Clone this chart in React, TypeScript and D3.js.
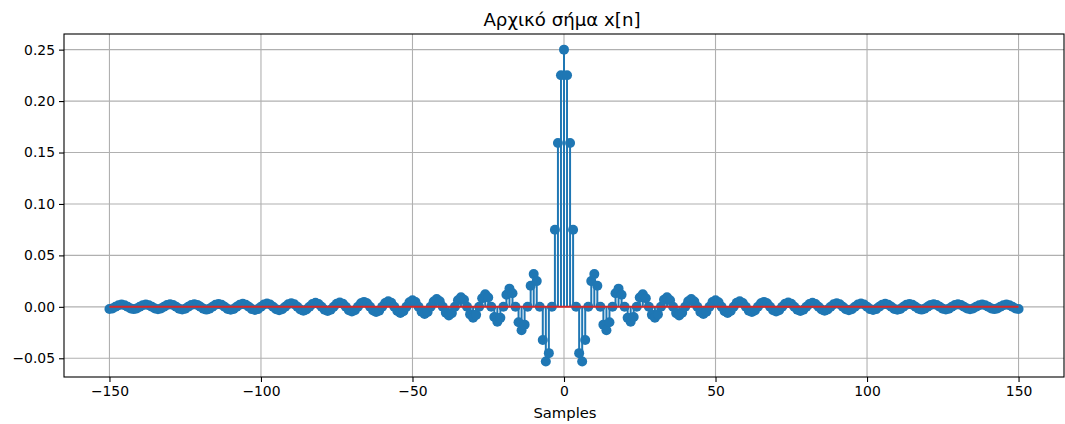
import React, { useEffect, useRef } from "react";
import * as d3 from "d3";

// samples n = -150 .. 150
const samples: number[] = d3.range(-150, 151);

// x[n], n = -150 .. 150
const values: number[] = [
  -0.0021, -0.0015, 0, 0.0015, 0.0022, 0.0016, 0, -0.0016,
  -0.0022, -0.0016, 0, 0.0016, 0.0023, 0.0016, 0, -0.0017,
  -0.0024, -0.0017, 0, 0.0017, 0.0024, 0.0017, 0, -0.0018,
  -0.0025, -0.0018, 0, 0.0018, 0.0026, 0.0019, 0, -0.0019,
  -0.0027, -0.0019, 0, 0.0020, 0.0028, 0.0020, 0, -0.0020,
  -0.0029, -0.0021, 0, 0.0021, 0.0030, 0.0021, 0, -0.0022,
  -0.0031, -0.0022, 0, 0.0023, 0.0032, 0.0023, 0, -0.0024,
  -0.0034, -0.0024, 0, 0.0025, 0.0035, 0.0025, 0, -0.0026,
  -0.0037, -0.0026, 0, 0.0027, 0.0039, 0.0028, 0, -0.0028,
  -0.0041, -0.0029, 0, 0.0030, 0.0043, 0.0031, 0, -0.0032,
  -0.0045, -0.0033, 0, 0.0034, 0.0048, 0.0035, 0, -0.0036,
  -0.0051, -0.0037, 0, 0.0038, 0.0055, 0.0039, 0, -0.0041,
  -0.0059, -0.0042, 0, 0.0044, 0.0064, 0.0046, 0, -0.0048,
  -0.0069, -0.0050, 0, 0.0052, 0.0076, 0.0055, 0, -0.0058,
  -0.0084, -0.0061, 0, 0.0064, 0.0094, 0.0068, 0, -0.0073,
  -0.0106, -0.0078, 0, 0.0083, 0.0122, 0.0090, 0, -0.0098,
  -0.0145, -0.0107, 0, 0.0118, 0.0177, 0.0132, 0, -0.0150,
  -0.0227, -0.0173, 0, 0.0205, 0.0318, 0.0250, 0, -0.0322,
  -0.0531, -0.0450, 0, 0.0750, 0.1592, 0.2251,
  0.25,
  0.2251, 0.1592, 0.0750, 0, -0.0450, -0.0531,
  -0.0322, 0, 0.0250, 0.0318, 0.0205, 0, -0.0173, -0.0227,
  -0.0150, 0, 0.0132, 0.0177, 0.0118, 0, -0.0107, -0.0145,
  -0.0098, 0, 0.0090, 0.0122, 0.0083, 0, -0.0078, -0.0106,
  -0.0073, 0, 0.0068, 0.0094, 0.0064, 0, -0.0061, -0.0084,
  -0.0058, 0, 0.0055, 0.0076, 0.0052, 0, -0.0050, -0.0069,
  -0.0048, 0, 0.0046, 0.0064, 0.0044, 0, -0.0042, -0.0059,
  -0.0041, 0, 0.0039, 0.0055, 0.0038, 0, -0.0037, -0.0051,
  -0.0036, 0, 0.0035, 0.0048, 0.0034, 0, -0.0033, -0.0045,
  -0.0032, 0, 0.0031, 0.0043, 0.0030, 0, -0.0029, -0.0041,
  -0.0028, 0, 0.0028, 0.0039, 0.0027, 0, -0.0026, -0.0037,
  -0.0026, 0, 0.0025, 0.0035, 0.0025, 0, -0.0024, -0.0034,
  -0.0024, 0, 0.0023, 0.0032, 0.0023, 0, -0.0022, -0.0031,
  -0.0022, 0, 0.0021, 0.0030, 0.0021, 0, -0.0021, -0.0029,
  -0.0020, 0, 0.0020, 0.0028, 0.0020, 0, -0.0019, -0.0027,
  -0.0019, 0, 0.0019, 0.0026, 0.0018, 0, -0.0018, -0.0025,
  -0.0018, 0, 0.0017, 0.0024, 0.0017, 0, -0.0017, -0.0024,
  -0.0017, 0, 0.0016, 0.0023, 0.0016, 0, -0.0016, -0.0022,
  -0.0016, 0, 0.0016, 0.0022, 0.0015, 0, -0.0015, -0.0021,
];

const xTicks: number[] = [-150, -100, -50, 0, 50, 100, 150];
const yTicks: number[] = [-0.05, 0, 0.05, 0.1, 0.15, 0.2, 0.25];

const title = "Αρχικό σήμα x[n]";
const xLabel = "Samples";

export default function App() {
  const ref = useRef<SVGSVGElement>(null);

  useEffect(() => {
    const width = 1065;
    const height = 424;
    const margin = { top: 34, left: 64, bottom: 47, right: 1 };
    const iwidth = width - margin.left - margin.right;
    const iheight = height - margin.top - margin.bottom;
    const font = "DejaVu Sans, sans-serif";

    const svg = d3.select(ref.current);
    svg.selectAll("*").remove();

    const g = svg
      .append("g")
      .attr("transform", `translate(${margin.left},${margin.top})`);

    const x = d3.scaleLinear().domain([-165, 165]).range([0, iwidth]);
    const y = d3.scaleLinear().domain([-0.0682, 0.2652]).range([iheight, 0]);

    // grid
    g.append("g")
      .selectAll("line")
      .data(xTicks)
      .enter()
      .append("line")
      .attr("x1", (d) => x(d))
      .attr("x2", (d) => x(d))
      .attr("y1", 0)
      .attr("y2", iheight)
      .attr("stroke", "#b0b0b0")
      .attr("stroke-width", 1.1);
    g.append("g")
      .selectAll("line")
      .data(yTicks)
      .enter()
      .append("line")
      .attr("x1", 0)
      .attr("x2", iwidth)
      .attr("y1", (d) => y(d))
      .attr("y2", (d) => y(d))
      .attr("stroke", "#b0b0b0")
      .attr("stroke-width", 1.1);

    const data = samples.map((n, i) => ({ n, v: values[i] }));

    // stems
    g.append("g")
      .selectAll("line")
      .data(data)
      .enter()
      .append("line")
      .attr("x1", (d) => x(d.n))
      .attr("x2", (d) => x(d.n))
      .attr("y1", y(0))
      .attr("y2", (d) => y(d.v))
      .attr("stroke", "#1f77b4")
      .attr("stroke-width", 2);

    // markers
    g.append("g")
      .selectAll("circle")
      .data(data)
      .enter()
      .append("circle")
      .attr("cx", (d) => x(d.n))
      .attr("cy", (d) => y(d.v))
      .attr("r", 5)
      .attr("fill", "#1f77b4");

    // baseline
    g.append("line")
      .attr("x1", x(-150))
      .attr("x2", x(150))
      .attr("y1", y(0))
      .attr("y2", y(0))
      .attr("stroke", "#d62728")
      .attr("stroke-width", 2);

    // x axis
    const xAxis = g
      .append("g")
      .attr("transform", `translate(0, ${iheight})`)
      .call(
        d3
          .axisBottom(x)
          .tickValues(xTicks)
          .tickSize(5)
          .tickPadding(4)
          .tickFormat((d) => d3.format("d")(d as number).replace("-", "\u2212"))
      );

    // y axis
    const yAxis = g.append("g").call(
      d3
        .axisLeft(y)
        .tickValues(yTicks)
        .tickSize(5)
        .tickPadding(4)
        .tickFormat((d) => d3.format(".2f")(d as number).replace("-", "\u2212"))
    );

    [xAxis, yAxis].forEach((ax) => {
      ax.select(".domain").remove();
      ax.selectAll(".tick line").attr("stroke", "#000").attr("stroke-width", 1.1);
      ax.selectAll(".tick text")
        .attr("fill", "#000")
        .style("font-family", font)
        .style("font-size", "13.9px");
    });

    // frame
    g.append("rect")
      .attr("x", 0)
      .attr("y", 0)
      .attr("width", iwidth)
      .attr("height", iheight)
      .attr("fill", "none")
      .attr("stroke", "#000")
      .attr("stroke-width", 1.1);

    svg
      .append("text")
      .attr("x", 562)
      .attr("y", 26)
      .attr("text-anchor", "middle")
      .style("font-family", font)
      .style("font-size", "18.2px")
      .text(title);

    svg
      .append("text")
      .attr("x", 565)
      .attr("y", 418)
      .attr("text-anchor", "middle")
      .style("font-family", font)
      .style("font-size", "14.8px")
      .text(xLabel);
  }, []);

  return (
    <svg
      ref={ref}
      width={1065}
      height={424}
      style={{ position: "absolute", left: 0, top: 0, background: "#fff" }}
    />
  );
}
